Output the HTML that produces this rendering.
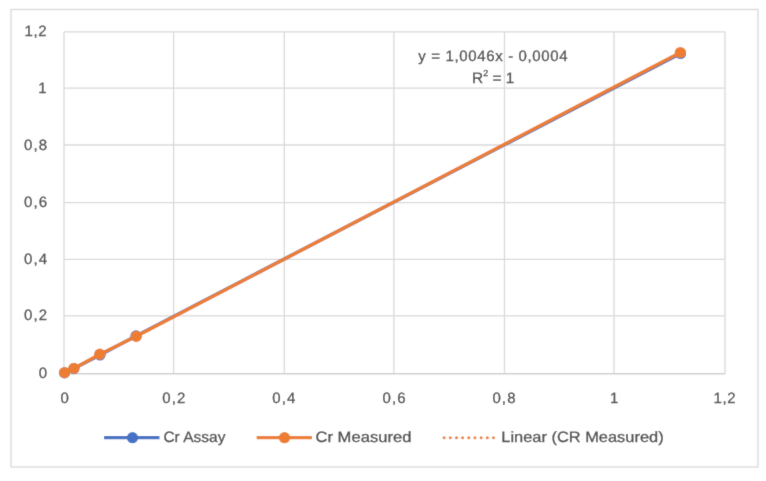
<!DOCTYPE html>
<html><head><meta charset="utf-8">
<style>
html,body{margin:0;padding:0;background:#fff;width:766px;height:481px;overflow:hidden}
svg{display:block}
text{font-family:"Liberation Sans",sans-serif;text-rendering:geometricPrecision;fill:#4a4a4a;stroke:#4a4a4a;stroke-width:0.3px;font-size:15px}
</style></head>
<body>
<svg width="766" height="481" viewBox="0 0 766 481">
<defs><filter id="bl" x="0" y="0" width="766" height="481" filterUnits="userSpaceOnUse"><feConvolveMatrix order="3" kernelMatrix="0.02 0.07 0.02 0.07 0.64 0.07 0.02 0.07 0.02" edgeMode="duplicate"/></filter></defs>
<g filter="url(#bl)">
<rect x="0" y="0" width="766" height="481" fill="#fff"/>
<g class="nt">
<rect x="11" y="9.5" width="747" height="457.5" fill="none" stroke="#d9d9d9" stroke-width="1.3"/>
<g stroke="#d9d9d9" stroke-width="1.3" fill="none">
<path d="M64 315.9H725M64 259.4H725M64 202.7H725M64 145H725M64 88.1H725M64 31.8H725"/>
<path d="M64 31.8V373.7M173.6 31.8V373.7M284.3 31.8V373.7M393.9 31.8V373.7M504.5 31.8V373.7M614 31.8V373.7M725 31.8V373.7"/>
</g>
<path d="M64 373.7H725" stroke="#cfcfcf" stroke-width="1.4"/>
<polyline points="64.5,372.8 73.9,368.6 100,355 136,335.9 680.5,53.5" fill="none" stroke="#4472c4" stroke-width="3.4" stroke-linejoin="round"/>
<g fill="#4472c4"><circle cx="64.5" cy="372.8" r="5.6"/><circle cx="73.9" cy="368.6" r="5.6"/><circle cx="100" cy="355" r="5.6"/><circle cx="136" cy="335.9" r="5.6"/><circle cx="680.5" cy="53.5" r="5.6"/></g>
<polyline points="64.5,372.6 73.9,368.4 99.8,354.2 136.35,336.3 680.35,52.5" fill="none" stroke="#ed7d31" stroke-width="3.4" stroke-linejoin="round"/>
<g fill="#ed7d31"><circle cx="64.5" cy="372.6" r="5.6"/><circle cx="73.9" cy="368.4" r="5.6"/><circle cx="99.8" cy="354.2" r="5.6"/><circle cx="136.35" cy="336.3" r="5.6"/><circle cx="680.35" cy="52.5" r="5.6"/></g>
<path d="M104 437.7H159.5" stroke="#4472c4" stroke-width="3.2"/>
<circle cx="132.5" cy="437.7" r="5.6" fill="#4472c4"/>
<path d="M256.7 437.7H312" stroke="#ed7d31" stroke-width="3.2"/>
<circle cx="284.5" cy="437.7" r="5.6" fill="#ed7d31"/>
<g fill="#ed7d31"><circle cx="444.1" cy="437.7" r="1.5"/><circle cx="450.28" cy="437.7" r="1.5"/><circle cx="456.45" cy="437.7" r="1.5"/><circle cx="462.62" cy="437.7" r="1.5"/><circle cx="468.8" cy="437.7" r="1.5"/><circle cx="474.98" cy="437.7" r="1.5"/><circle cx="481.15" cy="437.7" r="1.5"/><circle cx="487.33" cy="437.7" r="1.5"/><circle cx="493.5" cy="437.7" r="1.5"/></g>
</g>
<g font-size="16.8" text-anchor="end">
<text x="46.7" y="35.6" textLength="22.15" lengthAdjust="spacing">1,2</text>
<text x="46.7" y="93.4">1</text>
<text x="47.2" y="150" textLength="23.15" lengthAdjust="spacing">0,8</text>
<text x="47.2" y="206.7" textLength="23.15" lengthAdjust="spacing">0,6</text>
<text x="47.2" y="263.7" textLength="23.15" lengthAdjust="spacing">0,4</text>
<text x="47.2" y="320" textLength="23.15" lengthAdjust="spacing">0,2</text>
<text x="47.2" y="377.5">0</text>
</g>
<g font-size="16.8" text-anchor="middle">
<text x="64.6" y="402.6">0</text>
<text x="173.8" y="402.6" textLength="23.15" lengthAdjust="spacing">0,2</text>
<text x="283.8" y="402.6" textLength="23.15" lengthAdjust="spacing">0,4</text>
<text x="394.05" y="402.6" textLength="23.15" lengthAdjust="spacing">0,6</text>
<text x="503.95" y="402.6" textLength="23.15" lengthAdjust="spacing">0,8</text>
<text x="614.15" y="402.6">1</text>
<text x="724.5" y="402.6" textLength="22.15" lengthAdjust="spacing">1,2</text>
</g>
<text id="eq1" x="418.37" y="60.7" font-size="16.8" textLength="149.28" lengthAdjust="spacing">y = 1,0046x - 0,0004</text>
<text id="leg1" x="163.42" y="441.7" font-size="15" textLength="62" lengthAdjust="spacingAndGlyphs">Cr Assay</text>
<text id="leg2" x="315.51" y="441.7" font-size="15" textLength="95.89" lengthAdjust="spacingAndGlyphs">Cr Measured</text>
<text id="leg3" x="501.31" y="441.7" font-size="15" textLength="162.31" lengthAdjust="spacingAndGlyphs">Linear (CR Measured)</text>
<text id="eq2" x="472.02" y="82.6" font-size="16.8" textLength="42.29" lengthAdjust="spacingAndGlyphs">R<tspan font-size="8.74" dy="-6.6">2</tspan><tspan dy="6.6"> = 1</tspan></text>
</g>
</svg>
</body></html>
